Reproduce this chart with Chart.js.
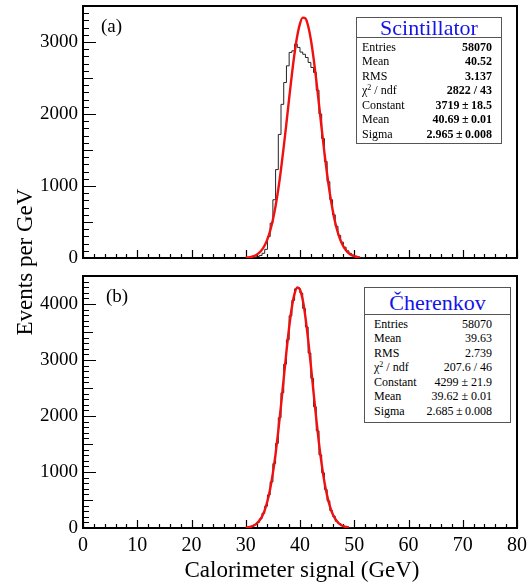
<!DOCTYPE html>
<html>
<head>
<meta charset="utf-8">
<title>Calorimeter signal</title>
<script src="https://cdn.jsdelivr.net/npm/chart.js@4.4.1/dist/chart.umd.min.js"></script>
<style>
  body { margin: 0; background: #fff; }
  #fig { position: relative; width: 532px; height: 582px; overflow: hidden;
         font-family: 'Liberation Serif', 'Times New Roman', serif; color: #000; }
  #fig canvas { position: absolute; left: 0; }
  #cvA { top: 0; }
  #cvB { top: 270px; }
  .tag { position: absolute; font-size: 19px; line-height: 19px; }
  .axis-title { position: absolute; font-size: 23px; line-height: 24px; white-space: nowrap; text-align: center; }
  #ytitle { left: -125px; top: 250px; width: 300px; transform: rotate(-90deg); }
  #xtitle { left: 52px; top: 558px; width: 500px; }
  .stats { position: absolute; box-sizing: border-box; border: 1px solid #555; background: #fff; }
  .stats .head { color: #1414e6; font-size: 22px; text-align: center; border-bottom: 1px solid #555; box-sizing: border-box; }
  .stats .row { display: flex; justify-content: space-between; font-size: 12px; height: 14.5px; line-height: 14.5px; white-space: nowrap; }
  .stats sup { font-size: 8px; line-height: 0; vertical-align: 4px; }
  #statA { left: 356px; top: 17px; width: 146px; height: 127px; }
  #statA .head { height: 20px; line-height: 19px; }
  #statA .rows { padding: 1.5px 9px 0 5px; }
  #statA .val { font-weight: bold; }
  #statB { left: 364px; top: 287px; width: 147px; height: 136px; }
  #statB .head { height: 27px; line-height: 30px; }
  #statB .rows { padding: 1.5px 18px 0 9px; }
</style>
</head>
<body>
<div id="fig">
  <canvas id="cvA" width="532" height="270"></canvas>
  <canvas id="cvB" width="532" height="312"></canvas>

  <div class="tag" style="left:101px; top:16px;">(a)</div>
  <div class="tag" style="left:106px; top:286px;">(b)</div>

  <div id="statA" class="stats"><div class="head">Scintillator</div><div class="rows"></div></div>
  <div id="statB" class="stats"><div class="head">Čherenkov</div><div class="rows"></div></div>

  <div id="ytitle" class="axis-title">Events per GeV</div>
  <div id="xtitle" class="axis-title">Calorimeter signal (GeV)</div>
</div>

<script>
/* ================================================
   CALORIMETER SIGNAL — SCINTILLATOR vs ČERENKOV
================================================ */

// x axis (GeV)
const xMin = 0;
const xMax = 80;
const xTicks = [0, 10, 20, 30, 40, 50, 60, 70, 80];

// histograms use 0.5 GeV bins
const binWidth = 0.5;

// (a) scintillator: bin contents starting at 30 GeV
const scintStart = 30;
const scintCounts = [
  2, 4, 6, 10, 20, 35, 65, 120, 297, 484,
  809, 1228, 1716, 2134, 2437, 2669, 2855, 2878, 2971, 2925,
  2860, 2830, 2785, 2716, 2646, 2576, 2330, 2000, 1660, 1340,
  1060, 810, 600, 440, 315, 220, 150, 100, 65, 40,
  25, 14, 8, 4,
];
// gaussian fit, sampled every 0.5 GeV from 30 GeV
const scintFitStart = 30;
const scintFit = [
  5, 9, 16, 27, 46, 74, 116, 177, 262, 378,
  531, 723, 957, 1233, 1542, 1875, 2216, 2547, 2844, 3086,
  3256, 3338, 3327, 3223, 3034, 2776, 2469, 2135, 1794, 1465,
  1163, 897, 673, 490, 347, 239, 160, 104, 66, 40,
  24, 14, 8,
];
const scintYMax = 3500;
const scintYTicks = [0, 1000, 2000, 3000];

// (b) cherenkov
const cherStart = 30;
const cherCounts = [
  10, 17, 34, 60, 98, 165, 262, 390, 590, 822,
  1150, 1510, 1968, 2415, 2925, 3360, 3790, 4065, 4270, 4285,
  4195, 3920, 3590, 3125, 2672, 2165, 1735, 1305, 985, 688,
  483, 310, 210, 122, 80, 42, 26, 12, 7, 3,
];
const cherFitStart = 30;
const cherFit = [
  7, 13, 25, 44, 77, 128, 206, 320, 481, 698,
  979, 1325, 1733, 2189, 2671, 3148, 3584, 3941, 4186, 4295,
  4256, 4074, 3767, 3364, 2902, 2418, 1947, 1513, 1136, 824,
  578, 391, 255, 161, 98, 58, 33, 18, 10,
];
const cherYMax = 4500;
const cherYTicks = [0, 1000, 2000, 3000, 4000];

// stat boxes
const statLabels = ['Entries', 'Mean', 'RMS', 'χ<sup>2</sup> / ndf', 'Constant', 'Mean', 'Sigma'];
const scintStats = ['58070', '40.52', '3.137', '2822 / 43', '3719\u2009±\u200918.5', '40.69\u2009±\u20090.01', '2.965\u2009±\u20090.008'];
const cherStats  = ['58070', '39.63', '2.739', '207.6 / 46', '4299 ± 21.9', '39.62 ± 0.01', '2.685\u2009±\u20090.008'];

const FONT = "'Liberation Serif', 'Times New Roman', serif";

document.addEventListener('DOMContentLoaded', () => {
  fillStats('statA', scintStats);
  fillStats('statB', cherStats);
  buildPanel('cvA', scintStart, scintCounts, scintFitStart, scintFit, scintYMax, scintYTicks, false);
  buildPanel('cvB', cherStart, cherCounts, cherFitStart, cherFit, cherYMax, cherYTicks, true);
});

/* ================================================
   DATA HELPERS
================================================ */
// step outline: rise at the first edge, drop at the last one
function histPoints(start, counts) {
  const pts = [{ x: start, y: 0 }];
  counts.forEach((c, i) => pts.push({ x: start + i * binWidth, y: c }));
  pts.push({ x: start + counts.length * binWidth, y: 0 });
  return pts;
}

function curvePoints(start, vals) {
  return vals.map((v, i) => ({ x: start + i * binWidth, y: v }));
}

function fillStats(id, values) {
  const rows = document.querySelector('#' + id + ' .rows');
  rows.innerHTML = statLabels.map((l, i) =>
    `<div class="row"><span>${l}</span><span class="val">${values[i]}</span></div>`
  ).join('');
}

/* ================================================
   FRAME + INWARD TICKS (ROOT style)
================================================ */
const rootFrame = {
  id: 'rootFrame',
  beforeDatasetsDraw(chart) {
    const { ctx, chartArea: a, scales: { x, y } } = chart;
    ctx.save();
    ctx.strokeStyle = '#000';
    ctx.lineWidth = 1.2;
    ctx.beginPath();
    // x: major every 10, minor every 2
    for (let v = xMin; v <= xMax; v += 2) {
      const px = Math.round(x.getPixelForValue(v)) + 0.5;
      const len = v % 10 === 0 ? 8 : 4;
      ctx.moveTo(px, a.bottom);
      ctx.lineTo(px, a.bottom - len);
    }
    // y: major every 1000, medium every 500, minor every 100
    for (let v = 0; v <= y.max; v += 100) {
      const py = Math.round(y.getPixelForValue(v)) + 0.5;
      const len = v % 1000 === 0 ? 13 : (v % 500 === 0 ? 10 : 6);
      ctx.moveTo(a.left, py);
      ctx.lineTo(a.left + len, py);
    }
    ctx.stroke();
    ctx.lineWidth = 2;
    ctx.strokeRect(a.left, a.top, a.right - a.left, a.bottom - a.top);
    ctx.restore();
  },
};

/* ================================================
   PANELS
================================================ */
function buildPanel(canvasId, hStart, counts, fStart, fit, yMax, yTicks, showX) {
  const ctx = document.getElementById(canvasId);
  if (!ctx) return;
  const axisHeight = ctx.height - 258;

  new Chart(ctx, {
    type: 'line',
    data: {
      datasets: [
        {
          data: curvePoints(fStart, fit),
          borderColor: '#f01010',
          borderWidth: 2.4,
          pointRadius: 0,
          cubicInterpolationMode: 'monotone',
          fill: false,
        },
        {
          data: histPoints(hStart, counts),
          borderColor: '#222',
          borderWidth: 1,
          pointRadius: 0,
          stepped: true,
          fill: false,
        },
      ],
    },
    options: {
      responsive: false,
      animation: false,
      devicePixelRatio: 1,
      layout: { padding: { left: 0, right: 15, top: 6, bottom: 0 } },
      plugins: { legend: { display: false }, tooltip: { enabled: false } },
      scales: {
        x: {
          type: 'linear',
          min: xMin,
          max: xMax,
          grid: { display: false, drawTicks: false },
          border: { display: false },
          afterBuildTicks(s) { s.ticks = xTicks.map(v => ({ value: v })); },
          ticks: {
            display: showX,
            maxRotation: 0,
            autoSkip: false,
            padding: 6,
            color: '#000',
            font: { family: FONT, size: 20 },
            callback: v => String(v),
          },
          afterFit(s) {
            s.height = axisHeight;
            s.paddingLeft = 0; s.paddingRight = 0;
          },
        },
        y: {
          type: 'linear',
          min: 0,
          max: yMax,
          grid: { display: false, drawTicks: false },
          border: { display: false },
          afterBuildTicks(s) { s.ticks = yTicks.map(v => ({ value: v })); },
          ticks: {
            autoSkip: false,
            padding: 5,
            color: '#000',
            font: { family: FONT, size: 19 },
            callback: v => String(v),
          },
          afterFit(s) {
            s.width = 83;
            s.paddingTop = 0; s.paddingBottom = 0;
          },
        },
      },
    },
    plugins: [rootFrame],
  });
}
</script>
</body>
</html>
